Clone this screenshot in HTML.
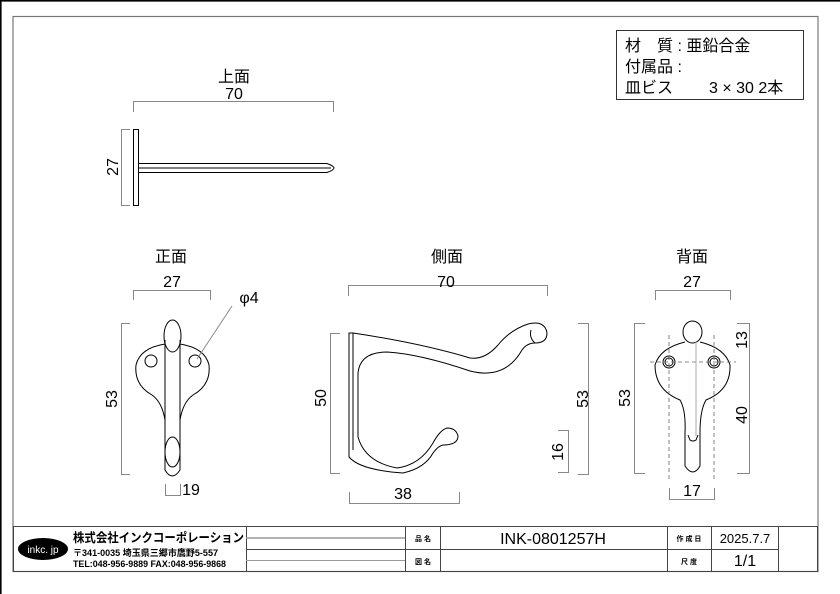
<!DOCTYPE html>
<html><head><meta charset="utf-8"><style>
html,body{margin:0;padding:0;background:#fff;}
svg{display:block;font-family:"Liberation Sans","Noto Sans CJK JP",sans-serif;}
</style></head><body>
<svg width="840" height="594" viewBox="0 0 840 594" xmlns="http://www.w3.org/2000/svg">
<rect width="840" height="594" fill="#fff"/>
<line x1="0" y1="0.8" x2="840" y2="0.8" stroke="#000" stroke-width="1.6"/>
<line x1="0.8" y1="0" x2="0.8" y2="594" stroke="#000" stroke-width="1.6"/>
<rect x="13" y="16.5" width="805" height="555" fill="none" stroke="#777" stroke-width="1.2"/>

<!-- spec table -->
<rect x="616.5" y="30.5" width="187" height="69" fill="none" stroke="#333" stroke-width="1"/>
<g font-size="16" fill="#000">
<text x="625" y="51">材　質 : 亜鉛合金</text>
<text x="625" y="72">付属品 :</text>
<text x="625" y="93">皿ビス</text>
<text x="709" y="93">3 × 30  2本</text>
</g>

<g fill="none" stroke="#000" stroke-width="1">
<!-- top view -->
<rect x="133.5" y="129.5" width="5" height="76"/>
<path d="M138.5 163.5 H327 Q334 166 334 168 Q334 170 327 172.5 H138.5"/>
<line x1="138.5" y1="168" x2="331" y2="168"/>
<!-- front view -->
<path d="M165 344 Q140 348 136 365 Q134 385 152 395 Q162 402 165 420"/>
<path d="M180 344 Q205 348 209 365 Q211 385 193 395 Q183 402 180 420"/>
<path d="M165 340 V470 Q172 482 180 470 V340"/>
<ellipse cx="172.5" cy="336" rx="8.5" ry="16"/>
<ellipse cx="172.5" cy="452" rx="7.5" ry="15"/>
<circle cx="151" cy="361" r="6"/>
<circle cx="195" cy="361" r="6"/>
<!-- side view -->
<path d="M349 333 V457 Q360 470 403 473 Q425 468 433 453 Q438 446 443 445 Q458 445 458 436 Q456 428 447 428 Q440 430 433 443 Q420 465 397 468 Q365 462 358 437 V373 Q360 352 387 352 Q420 354 470 371 Q505 380 522 350 Q527 343 535 343 Q547 343 547 333 Q545 320 528 324 Q510 330 498 345 Q485 360 470 358 Q420 343 353 333 Z"/>
<path d="M535 343 Q529 338 531 330"/>
<line x1="353" y1="333" x2="353" y2="450"/>
<!-- back view -->
<ellipse cx="692.5" cy="332" rx="9.5" ry="11"/>
<path d="M685 342 Q660 348 655 365 Q655 390 680 400 Q686 410 685 433 V466 Q693 478 700 466 V433 Q700 410 706 400 Q731 390 730 365 Q725 348 700 342"/>
<path d="M688 435 L690 440 Q693 442 696 440 L698 435"/>
<circle cx="669" cy="362" r="6"/><circle cx="669" cy="362" r="4"/>
<circle cx="714" cy="362" r="6"/><circle cx="714" cy="362" r="4"/>
</g>
<g stroke="#666" stroke-width="0.8" stroke-dasharray="4 3" fill="none">
<line x1="669" y1="335" x2="669" y2="482"/>
<line x1="714" y1="335" x2="714" y2="482"/>
<line x1="650" y1="362" x2="736" y2="362"/>
</g>
<line x1="696" y1="342" x2="696" y2="436" stroke="#aaa" stroke-width="1"/>

<!-- dimension lines -->
<g fill="none" stroke="#888" stroke-width="1">
<path d="M133.5 112 V101.5 H333.5 V112"/>
<path d="M130 129.5 H121.5 V205.5 H130"/>
<path d="M133.5 300 V290.5 H210.5 V300"/>
<path d="M130 323.5 H121.5 V474.5 H130"/>
<path d="M165.5 484 V495.5 H180.5 V484"/>
<line x1="197" y1="359" x2="232" y2="306"/>
<path d="M348.5 296 V285.5 H547.5 V296"/>
<path d="M340 333.5 H330.5 V473.5 H340"/>
<path d="M349.5 492 V503.5 H459.5 V492"/>
<path d="M578 323.5 H588.5 V474.5 H578"/>
<path d="M558 430.5 H568.5 V472.5 H558"/>
<path d="M655.5 300 V290.5 H730.5 V300"/>
<path d="M645 323.5 H634.5 V473.5 H645"/>
<path d="M737 323.5 H749.5 V473.5 H737"/>
<path d="M669.5 488 V499.5 H714.5 V488"/>
</g>

<g font-size="16" fill="#000" text-anchor="middle">
<text x="234" y="82">上面</text>
<text x="234" y="99">70</text>
<text transform="translate(118,167) rotate(-90)">27</text>
<text x="171" y="262">正面</text>
<text x="172" y="287">27</text>
<text x="249" y="303">φ4</text>
<text transform="translate(117,399) rotate(-90)">53</text>
<text x="191" y="495">19</text>
<text x="447" y="262">側面</text>
<text x="446" y="287">70</text>
<text transform="translate(326,398) rotate(-90)">50</text>
<text x="403" y="499">38</text>
<text transform="translate(588,399) rotate(-90)">53</text>
<text transform="translate(563,452) rotate(-90)">16</text>
<text x="692" y="262">背面</text>
<text x="692" y="287">27</text>
<text transform="translate(630,398) rotate(-90)">53</text>
<text transform="translate(747,340) rotate(-90)">13</text>
<text transform="translate(747,415) rotate(-90)">40</text>
<text x="692" y="496">17</text>
</g>

<!-- title block -->
<g fill="none" stroke="#444" stroke-width="1">
<rect x="13.5" y="526.5" width="804" height="45"/>
<line x1="246.5" y1="526" x2="246.5" y2="572"/>
<line x1="405.5" y1="526" x2="405.5" y2="572"/>
<line x1="440.5" y1="526" x2="440.5" y2="572"/>
<line x1="667.5" y1="526" x2="667.5" y2="572"/>
<line x1="711.5" y1="526" x2="711.5" y2="572"/>
<line x1="778.5" y1="526" x2="778.5" y2="572"/>
<line x1="405" y1="549.5" x2="778" y2="549.5"/>
<line x1="246" y1="549.5" x2="405" y2="549.5"/>
</g>
<line x1="246" y1="538" x2="405" y2="538" stroke="#999" stroke-width="1.5"/>
<line x1="246" y1="560.5" x2="405" y2="560.5" stroke="#999" stroke-width="1"/>
<ellipse cx="43" cy="549" rx="25" ry="11" fill="#000"/>
<text x="43" y="553" font-size="10" fill="#fff" text-anchor="middle">inkc. jp</text>
<text x="73" y="542" font-size="12.5" font-weight="bold" textLength="171" lengthAdjust="spacingAndGlyphs">株式会社インクコーポレーション</text>
<text x="73" y="556" font-size="9" font-weight="bold" textLength="145" lengthAdjust="spacingAndGlyphs">〒341-0035 埼玉県三郷市鷹野5-557</text>
<text x="73" y="567" font-size="9" font-weight="bold" textLength="153" lengthAdjust="spacingAndGlyphs">TEL:048-956-9889  FAX:048-956-9868</text>
<g font-size="7" text-anchor="middle" font-weight="bold">
<text x="423" y="541">品 名</text>
<text x="423" y="564">図 名</text>
<text x="689" y="541">作 成 日</text>
<text x="689" y="564">尺 度</text>
</g>
<text x="553" y="544" font-size="16" text-anchor="middle">INK-0801257H</text>
<text x="745" y="543" font-size="13" text-anchor="middle">2025.7.7</text>
<text x="745" y="566" font-size="16" text-anchor="middle">1/1</text>
</svg>
</body></html>
